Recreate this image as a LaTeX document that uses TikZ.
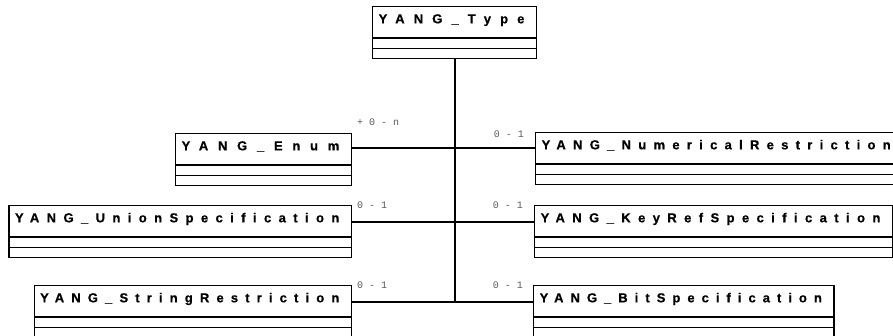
\documentclass[tikz,border=0pt]{standalone}
\usepackage{fontspec}
\usetikzlibrary{positioning,shapes.multipart}

\newfontfamily\classfont{Liberation Sans}[BoldFeatures={FakeBold=0.6}]
\newfontfamily\multfont{Liberation Mono}

% class name, tracked out; optional arg is the letter spacing
\newcommand{\clsname}[2][56]{\addfontfeature{LetterSpace=#1}\rule[-14pt]{0pt}{30pt}#2\kern6pt}

\begin{document}
\begin{tikzpicture}[x=1pt,y=-1pt,
  class/.style={draw, line width=1.3pt, rectangle split, rectangle split parts=3,
    inner xsep=6pt, inner ysep=0pt,
    rectangle split empty part height=9pt, rectangle split empty part depth=0pt,
    font=\classfont\bfseries\fontsize{13}{15}\selectfont},
  link/.style={line width=1.3pt},
  trunk/.style={line width=2pt},
  mult/.style={font=\multfont\fontsize{10}{12}\selectfont, text=black!65, inner sep=0pt}]
  \useasboundingbox (0,0) rectangle (893,335);

  \node[class, anchor=north west] (type)   at (372,6)   {\clsname[70]{YANG\_Type}};
  \node[class, anchor=north east] (enum)   at (352,133) {\clsname[75]{YANG\_Enum}};
  \node[class, anchor=north west] (numres) at (535,132) {\clsname{YANG\_NumericalRestriction}};
  \node[class, anchor=north east] (union)  at (352,205) {\clsname[57]{YANG\_UnionSpecification}};
  \node[class, anchor=north west] (keyref) at (534,205) {\clsname[57]{YANG\_KeyRefSpecification}};
  \node[class, anchor=north east] (string) at (352,285) {\clsname[55]{YANG\_StringRestriction}};
  \node[class, anchor=north west] (bit)    at (533,285) {\clsname[54]{YANG\_BitSpecification}};

  % rows where the associations join the trunk
  \coordinate (r1) at ([yshift=-15pt]enum.north east);
  \coordinate (r2) at ([yshift=-17pt]union.north east);
  \coordinate (r3) at ([yshift=-17pt]string.north east);

  \draw[trunk] (type.south) -- (type.south |- r3);
  \draw[link] (r1) -- (r1 -| numres.west);
  \draw[link] (r2) -- (r2 -| keyref.west);
  \draw[link] (r3) -- (r3 -| bit.west);

  % multiplicities
  \node[mult, anchor=base west] (menum)   at ([xshift=5pt,yshift=8pt]enum.north east) {+ 0 - n};
  \node[mult, anchor=base east] (mnumres) at ([xshift=-11pt,yshift=-5pt]numres.north west) {0 - 1};
  \node[mult, anchor=base west] (munion)  at ([xshift=5pt,yshift=-3pt]union.north east) {0 - 1};
  \node[mult, anchor=base east] (mkeyref) at ([xshift=-11pt,yshift=-3pt]keyref.north west) {0 - 1};
  \node[mult, anchor=base west] (mstring) at ([xshift=5pt,yshift=-3pt]string.north east) {0 - 1};
  \node[mult, anchor=base east] (mbit)    at ([xshift=-10pt,yshift=-3pt]bit.north west) {0 - 1};
\end{tikzpicture}
\end{document}
